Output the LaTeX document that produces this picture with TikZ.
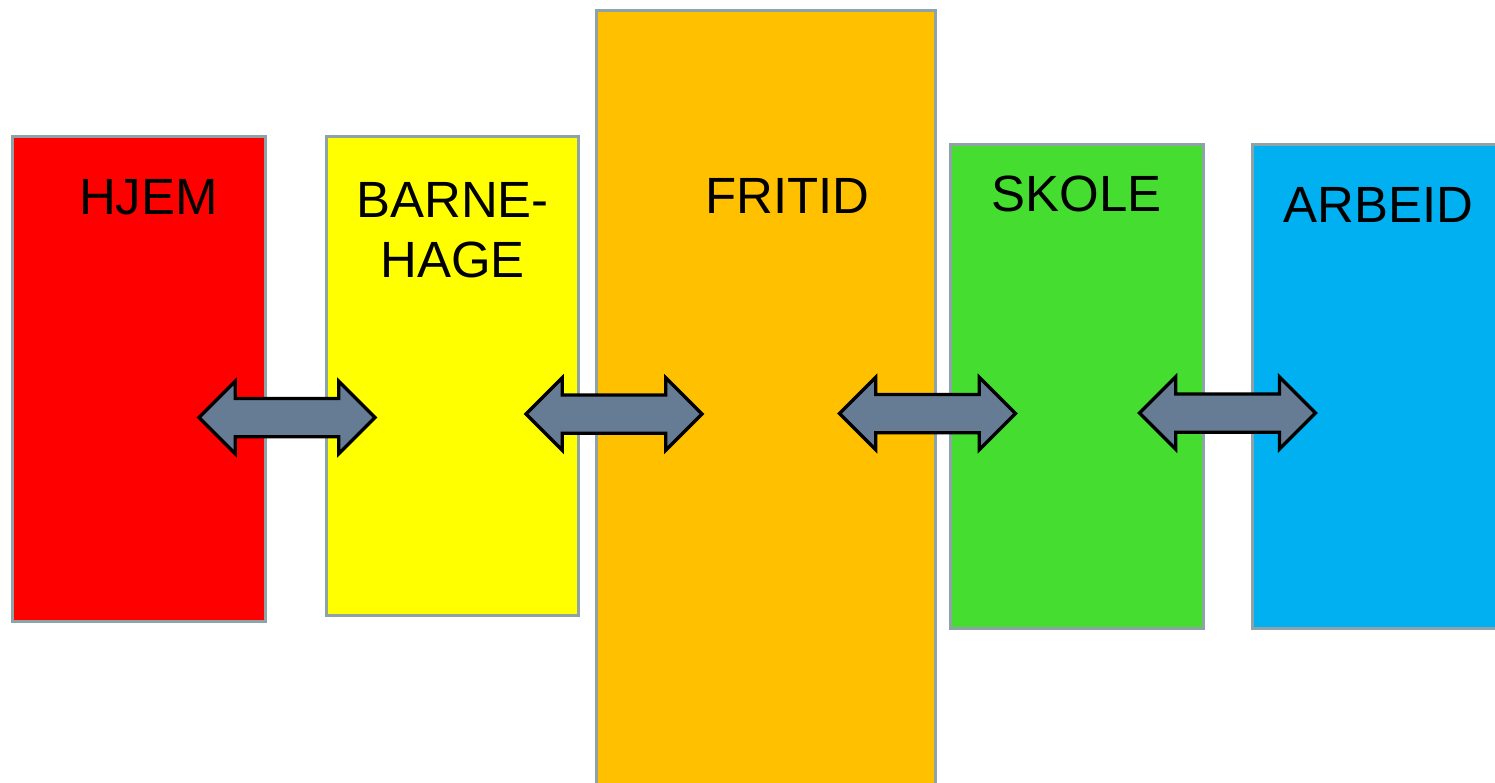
\documentclass[tikz,border=0pt]{standalone}
\usepackage{fontspec}
\setmainfont{Liberation Sans}
\usetikzlibrary{shapes.arrows}

\definecolor{boxline}{HTML}{8EA3A8}
\definecolor{hjemred}{HTML}{FF0000}
\definecolor{hageyellow}{HTML}{FFFF00}
\definecolor{fritidorange}{HTML}{FFC000}
\definecolor{skolegreen}{HTML}{45DE30}
\definecolor{arbeidblue}{HTML}{00B0F0}
\definecolor{arrowgray}{HTML}{667B94}

\tikzset{
  area/.style={draw=boxline,line width=0.06cm,inner sep=0pt},
  label/.style={anchor=base,font=\fontsize{29}{34}\selectfont,align=center},
  link/.style={shape=double arrow,draw=black,fill=arrowgray,line width=0.065cm,
    inner xsep=0pt,inner ysep=0.35cm,minimum height=3.52cm,
    double arrow head extend=0.34cm,double arrow tip angle=90},
}

\begin{document}
\begin{tikzpicture}[x=0.02cm,y=-0.02cm]
      \useasboundingbox (0,0) rectangle (1495,782);

      \node[area,fill=hjemred,minimum width=5.08cm,minimum height=9.72cm] (1) at (139,379) {};
      \node[area,fill=hageyellow,minimum width=5.06cm,minimum height=9.6cm] (2) at (452.5,376) {};
      \node[area,fill=fritidorange,minimum width=6.8cm,minimum height=15.8cm] (3) at (766,405) {};
      \node[area,fill=skolegreen,minimum width=5.08cm,minimum height=9.7cm] (4) at (1077,386.5) {};
      \node[area,fill=arbeidblue,minimum width=5.3cm,minimum height=9.7cm] (5) at (1385,386.5) {};

      \node[label] (1t) at (148.5,214) {HJEM};
      \node[label] (2t) at (452.5,277) {BARNE-\\HAGE};
      \node[label] (3t) at (787.5,213) {FRITID};
      \node[label] (4t) at (1076.5,211) {SKOLE};
      \node[label] (5t) at (1378.5,222) {ARBEID};

      \node[link] (12) at (287,417.5) {};
      \node[link] (23) at (614,414) {};
      \node[link] (34) at (927.5,413.5) {};
      \node[link] (45) at (1227.5,413) {};
    \end{tikzpicture}
\end{document}
